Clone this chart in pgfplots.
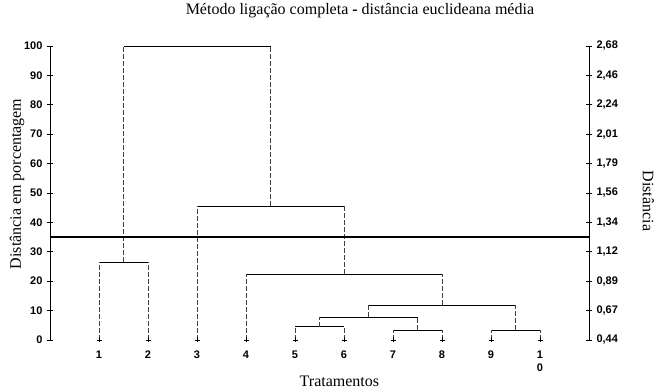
\documentclass[border=0pt]{standalone}
\usepackage{pgfplots}
\pgfplotsset{compat=1.18}
\usepackage{fontspec}
\setmainfont{Liberation Serif}
\newfontfamily\tickfont{Liberation Sans}
\begin{document}
\begin{tikzpicture}[x=1pt,y=1pt]
\path[use as bounding box] (0,0) rectangle (656,390);
\pgfplotsset{
  common/.style={
    scale only axis, width=539pt, height=294pt,
    at={(50pt,50pt)}, anchor=south west,
    xmin=0, xmax=11, ymin=0, ymax=100,
    ytick={0,10,...,100},
    tick align=center, major tick length=6pt,
    every tick/.style={black, line width=0.8pt},
    axis line style={line width=0.9pt},
    tick label style={font=\tickfont\bfseries\fontsize{11}{13}\selectfont},
    /pgf/number format/assume math mode=true,
  }
}
\begin{axis}[common,
  axis y line*=left, axis x line*=bottom,
  x axis line style={draw=none},
  xtick={1,...,10},
  xticklabels={1,2,3,4,5,6,7,8,9,{1\\0}},
  xtick style={draw=none},
  xticklabel style={align=center, yshift=-4pt},
  yticklabel style={xshift=-1pt},
  title={Método ligação completa {\bfseries -} distância euclideana média},
  title style={at={(0.575,1.099)}, anchor=center, font=\fontsize{16}{18}\selectfont},
  xlabel={Tratamentos},
  xlabel style={at={(0.537,-0.142)}, anchor=center, font=\fontsize{16}{18}\selectfont},
  every axis y label/.style={at={(-0.061,0.531)}, anchor=center, rotate=90},
  ylabel={Distância em porcentagem},
  ylabel style={font=\fontsize{16}{18}\selectfont},
]
% horizontal links (solid)
\pgfplotsset{hl/.style={black, line width=0.8pt, no marks}, vl/.style={black!75, line width=0.8pt, dash pattern=on 5pt off 2pt, no marks}}
\addplot[hl] coordinates {(1,26.5) (2,26.5)};
\addplot[hl] coordinates {(5,4.5) (6,4.5)};
\addplot[hl] coordinates {(7,3.4) (8,3.4)};
\addplot[hl] coordinates {(9,3.4) (10,3.4)};
\addplot[hl] coordinates {(5.5,7.8) (7.5,7.8)};
\addplot[hl] coordinates {(6.5,11.9) (9.5,11.9)};
\addplot[hl] coordinates {(4,22.4) (8,22.4)};
\addplot[hl] coordinates {(3,45.6) (6,45.6)};
\addplot[hl] coordinates {(1.5,100) (4.5,100)};
% vertical links (dashed)
\addplot[vl] coordinates {(1,0) (1,26.5)};
\addplot[vl] coordinates {(2,0) (2,26.5)};
\addplot[vl] coordinates {(3,0) (3,45.6)};
\addplot[vl] coordinates {(4,0) (4,22.4)};
\addplot[vl] coordinates {(5,0) (5,4.5)};
\addplot[vl] coordinates {(6,0) (6,4.5)};
\addplot[vl] coordinates {(7,0) (7,3.4)};
\addplot[vl] coordinates {(8,0) (8,3.4)};
\addplot[vl] coordinates {(9,0) (9,3.4)};
\addplot[vl] coordinates {(10,0) (10,3.4)};
\addplot[vl] coordinates {(1.5,26.5) (1.5,100)};
\addplot[vl] coordinates {(5.5,4.5) (5.5,7.8)};
\addplot[vl] coordinates {(7.5,3.4) (7.5,7.8)};
\addplot[vl] coordinates {(6.5,7.8) (6.5,11.9)};
\addplot[vl] coordinates {(9.5,3.4) (9.5,11.9)};
\addplot[vl] coordinates {(8,11.9) (8,22.4)};
\addplot[vl] coordinates {(6,22.4) (6,45.6)};
\addplot[vl] coordinates {(4.5,45.6) (4.5,100)};
% leaf marks
\addplot[only marks, mark=+, mark size=2.5pt, black, line width=0.8pt] coordinates {(1,0) (2,0) (3,0) (4,0) (5,0) (6,0) (7,0) (8,0) (9,0) (10,0)};
% cut line
\addplot[black, line width=1.6pt, no marks] coordinates {(0,35) (11,35)};
\end{axis}
\begin{axis}[common,
  axis y line*=right, axis x line=none,
  yticklabels={{0,44},{0,67},{0,89},{1,12},{1,34},{1,56},{1,79},{2,01},{2,24},{2,46},{2,68}},
  yticklabel style={xshift=1pt},
  every axis y label/.style={at={(1.11,0.473)}, anchor=center, rotate=-90},
  ylabel={Distância},
  ylabel style={font=\fontsize{16}{18}\selectfont},
]
\addplot[draw=none, no marks] coordinates {(0,0) (11,100)};
\end{axis}
\end{tikzpicture}
\end{document}
